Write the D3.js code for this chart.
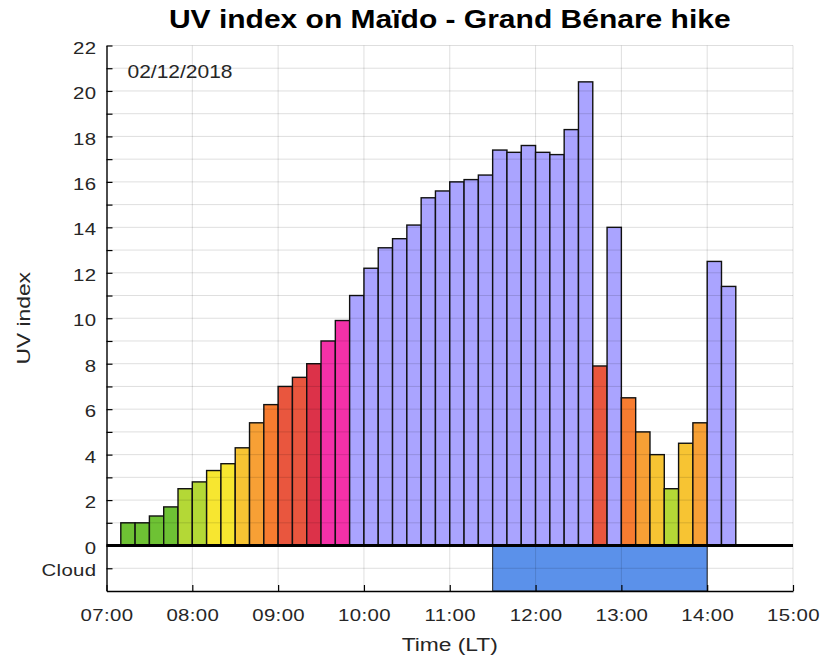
<!DOCTYPE html>
<html>
<head>
<meta charset="utf-8">
<script src="https://cdn.jsdelivr.net/npm/d3@7"></script>
<style>
body { margin: 0; background: #fff; }
text { font-family: "Liberation Sans", Arial, sans-serif; }
</style>
</head>
<body>
<div id="chart"></div>
<script>
(function(d3) {
'use strict';

// start of each 10 minute bin
var times = [
  '07:10', '07:20', '07:30', '07:40', '07:50',
  '08:00', '08:10', '08:20', '08:30', '08:40', '08:50',
  '09:00', '09:10', '09:20', '09:30', '09:40', '09:50',
  '10:00', '10:10', '10:20', '10:30', '10:40', '10:50',
  '11:00', '11:10', '11:20', '11:30', '11:40', '11:50',
  '12:00', '12:10', '12:20', '12:30', '12:40', '12:50',
  '13:00', '13:10', '13:20', '13:30', '13:40', '13:50',
  '14:00', '14:10'
];
var uvValues = [
  1.0, 1.0, 1.3, 1.7, 2.5,
  2.8, 3.3, 3.6, 4.3, 5.4, 6.2,
  7.0, 7.4, 8.0, 9.0, 9.9, 11.0,
  12.2, 13.1, 13.5, 14.1, 15.3, 15.6,
  16.0, 16.1, 16.3, 17.4, 17.3, 17.6,
  17.3, 17.2, 18.3, 20.4, 7.9, 14.0,
  6.5, 5.0, 4.0, 2.5, 4.5, 5.4,
  12.5, 11.4
];
var cloudPeriod = ['11:30', '14:00'];
var hourTicks = ['07:00', '08:00', '09:00', '10:00', '11:00', '12:00', '13:00', '14:00', '15:00'];
var yLabelTicks = [0, 2, 4, 6, 8, 10, 12, 14, 16, 18, 20, 22];
var cloudTick = -1;
var dateLabel = '02/12/2018';

var parse = d3.timeParse('%H:%M');
var width = 820, height = 657;
var left = 106.5, right = 793, top = 45.5, bottom = 591;
var stretch = 1.2; // the original fonts are drawn wide

var x = d3.scaleTime()
	.domain([parse(hourTicks[0]), parse(hourTicks[hourTicks.length - 1])])
	.range([left, right]);

var y = d3.scaleLinear()
	.domain([-2, 22])
	.range([bottom, top]);

var color = d3.scaleThreshold()
	.domain([2, 3, 4, 5, 6, 7, 8, 9, 11])
	.range(['#6ec234', '#b4d836', '#f7e630', '#f7c433', '#f7a035',
		'#f77c30', '#e9563e', '#dc3249', '#f431a8', '#aaa4ff']);

var dataset = times.map(function(t, i) {
	var start = parse(t);
	return { start: start, end: d3.timeMinute.offset(start, 10), value: uvValues[i] };
});

var svg = d3.select('#chart')
	.append('svg')
	.attr('width', width)
	.attr('height', height);

// bars
svg.append('g')
	.selectAll('rect')
	.data(dataset)
	.enter().append('rect')
	.attr('x', function(d) { return x(d.start); })
	.attr('y', function(d) { return y(d.value); })
	.attr('width', function(d) { return x(d.end) - x(d.start); })
	.attr('height', function(d) { return y(0) - y(d.value); })
	.attr('fill', function(d) { return color(d.value); })
	.attr('stroke', '#111')
	.attr('stroke-width', 1.4);

// cloud band
svg.append('rect')
	.attr('x', x(parse(cloudPeriod[0])))
	.attr('y', y(0))
	.attr('width', x(parse(cloudPeriod[1])) - x(parse(cloudPeriod[0])))
	.attr('height', y(-2) - y(0))
	.attr('fill', '#5b91ea')
	.attr('stroke', '#222')
	.attr('stroke-width', 1);

// grid on top, like matlab layer top
var grid = svg.append('g')
	.attr('stroke', '#000')
	.attr('stroke-opacity', 0.13)
	.attr('stroke-width', 1);

grid.selectAll('.hgrid')
	.data(d3.range(-1, 23))
	.enter().append('line')
	.attr('x1', left)
	.attr('x2', right)
	.attr('y1', function(d) { return y(d); })
	.attr('y2', function(d) { return y(d); });

grid.selectAll('.vgrid')
	.data(hourTicks.slice(1))
	.enter().append('line')
	.attr('x1', function(d) { return x(parse(d)); })
	.attr('x2', function(d) { return x(parse(d)); })
	.attr('y1', top)
	.attr('y2', bottom);

// zero line
svg.append('line')
	.attr('x1', left)
	.attr('x2', right)
	.attr('y1', y(0))
	.attr('y2', y(0))
	.attr('stroke', '#000')
	.attr('stroke-width', 3);

var yAxis = d3.axisLeft(y)
	.tickValues(d3.range(-1, 23))
	.tickSize(-6)
	.tickSizeOuter(0)
	.tickPadding(10)
	.tickFormat(function(d) {
		if (d === cloudTick) return 'Cloud';
		return yLabelTicks.indexOf(d) >= 0 ? d : '';
	});

var gy = svg.append('g')
	.attr('transform', 'translate(' + left + ',0)')
	.call(yAxis);

var xAxis = d3.axisBottom(x)
	.tickValues(hourTicks.map(parse))
	.tickFormat(d3.timeFormat('%H:%M'))
	.tickSize(-6)
	.tickSizeOuter(0)
	.tickPadding(18);

var gx = svg.append('g')
	.attr('transform', 'translate(0,' + bottom + ')')
	.call(xAxis);

[gx, gy].forEach(function(g) {
	g.select('.domain').attr('stroke', '#000').attr('stroke-width', 1.4);
	g.selectAll('.tick line').attr('stroke', '#000').attr('stroke-width', 1.2);
	g.selectAll('text')
		.attr('font-family', '"Liberation Sans", Arial, sans-serif')
		.attr('font-size', 17)
		.attr('letter-spacing', '0.3px')
		.attr('fill', '#262626')
		.attr('transform', 'scale(' + stretch + ',1)');
});
gy.selectAll('text')
	.attr('x', -10 / stretch)
	.attr('dy', '0.45em');

// title and labels
svg.append('text')
	.attr('transform', 'translate(' + ((left + right) / 2) + ',28) scale(' + stretch + ',1)')
	.attr('text-anchor', 'middle')
	.attr('font-size', 25)
	.attr('font-weight', 'bold')
	.attr('fill', '#000')
	.text('UV index on Maïdo - Grand Bénare hike');

svg.append('text')
	.attr('transform', 'translate(' + ((left + right) / 2) + ',651) scale(' + stretch + ',1)')
	.attr('text-anchor', 'middle')
	.attr('font-size', 19)
	.attr('fill', '#262626')
	.text('Time (LT)');

svg.append('text')
	.attr('transform', 'translate(30,' + ((top + bottom) / 2) + ') rotate(-90) scale(' + stretch + ',1)')
	.attr('text-anchor', 'middle')
	.attr('font-size', 19)
	.attr('fill', '#262626')
	.text('UV index');

svg.append('text')
	.attr('transform', 'translate(' + (left + 21) + ',78) scale(' + stretch + ',1)')
	.attr('font-size', 17.5)
	.attr('fill', '#262626')
	.text(dateLabel);

})(window.d3);
</script>
</body>
</html>
